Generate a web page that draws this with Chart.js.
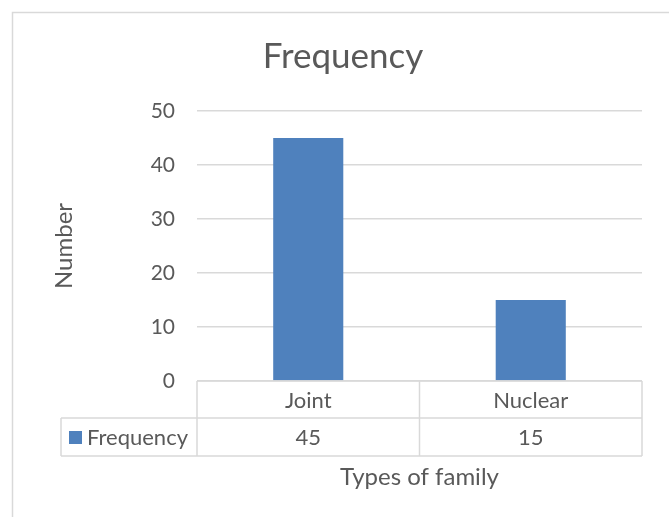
<!DOCTYPE html>
<html>
<head>
<meta charset="utf-8">
<script src="https://cdn.jsdelivr.net/npm/chart.js@4/dist/chart.umd.min.js"></script>
<style>
  html, body { margin: 0; padding: 0; background: #ffffff; }
  #wrap { width: 669px; height: 517px; position: relative; }
</style>
</head>
<body>
<div id="wrap"><canvas id="c" width="669" height="517"></canvas></div>
<script>
const categories = ['Joint', 'Nuclear'];
const frequency = [45, 15];
const seriesName = 'Frequency';
const chartTitle = 'Frequency';
const yTitle = 'Number';
const xTitle = 'Types of family';
const yTicks = [0, 10, 20, 30, 40, 50];

const FONT = 'Lato, "Open Sans", sans-serif';
const TEXT = '#595959';
const LINE = '#d9d9d9';
const BAR = '#4f81bd';

const frameAndTable = {
  id: 'frameAndTable',
  beforeDraw(chart) {
    const ctx = chart.ctx;
    ctx.save();
    ctx.fillStyle = '#ffffff';
    ctx.fillRect(0, 0, chart.width, chart.height);
    ctx.strokeStyle = LINE;
    ctx.lineWidth = 1.5;
    ctx.beginPath();
    ctx.moveTo(12.5, chart.height);
    ctx.lineTo(12.5, 12.5);
    ctx.lineTo(chart.width, 12.5);
    ctx.stroke();
    ctx.restore();
  },
  afterDraw(chart) {
    const ctx = chart.ctx;
    const area = chart.chartArea;
    const xs = chart.scales.x;
    const top = area.bottom;
    const mid = top + 37;
    const bot = top + 75;
    const legLeft = 61;
    ctx.save();
    ctx.strokeStyle = LINE;
    ctx.lineWidth = 1.5;
    ctx.beginPath();
    ctx.moveTo(area.left, top); ctx.lineTo(area.right, top);
    ctx.moveTo(legLeft, mid); ctx.lineTo(area.right, mid);
    ctx.moveTo(legLeft, bot); ctx.lineTo(area.right, bot);
    const step = (area.right - area.left) / categories.length;
    for (let i = 0; i <= categories.length; i++) {
      const x = area.left + step * i;
      ctx.moveTo(x, top); ctx.lineTo(x, bot);
    }
    ctx.moveTo(legLeft, mid); ctx.lineTo(legLeft, bot);
    ctx.stroke();

    ctx.fillStyle = TEXT;
    ctx.font = '22px ' + FONT;
    ctx.textAlign = 'center';
    ctx.textBaseline = 'middle';
    categories.forEach((c, i) => {
      const cx = xs.getPixelForValue(i);
      ctx.fillText(c, cx, (top + mid) / 2 + 1);
      ctx.fillText(String(frequency[i]), cx, (mid + bot) / 2 + 1);
    });
    ctx.fillStyle = BAR;
    ctx.fillRect(69, (mid + bot) / 2 - 6, 13, 13);
    ctx.fillStyle = TEXT;
    ctx.textAlign = 'left';
    ctx.fillText(seriesName, 87, (mid + bot) / 2 + 1);
    ctx.restore();
  }
};

new Chart(document.getElementById('c'), {
  type: 'bar',
  data: {
    labels: categories,
    datasets: [{
      label: seriesName,
      data: frequency,
      backgroundColor: BAR,
      borderWidth: 0,
      categoryPercentage: 1,
      barPercentage: 0.315
    }]
  },
  options: {
    responsive: false,
    animation: false,
    layout: { padding: { left: 44, right: 27, top: 0, bottom: 0 } },
    plugins: {
      legend: { display: false },
      tooltip: { enabled: false },
      title: {
        display: true,
        text: chartTitle,
        color: TEXT,
        font: { family: FONT, size: 35, weight: 'normal', lineHeight: 1.2 },
        padding: { top: 36, bottom: 33 }
      }
    },
    scales: {
      y: {
        min: 0,
        max: 50,
        afterBuildTicks(s) { s.ticks = yTicks.map(v => ({ value: v })); },
        afterFit(s) { s.width = 153; },
        ticks: {
          color: TEXT,
          font: { family: FONT, size: 21 },
          padding: 22
        },
        grid: { color: LINE, lineWidth: 1.5, drawTicks: false },
        border: { display: false },
        title: {
          display: true,
          text: yTitle,
          color: TEXT,
          font: { family: FONT, size: 24, lineHeight: 1.2 },
          padding: { top: 6, bottom: 0 }
        }
      },
      x: {
        ticks: { display: false },
        grid: { display: false, drawTicks: false },
        border: { display: false },
        afterFit(s) { s.height = 136; },
        title: {
          display: true,
          text: xTitle,
          color: TEXT,
          font: { family: FONT, size: 24, lineHeight: 1.2 },
          padding: { top: 0, bottom: 25 }
        }
      }
    }
  },
  plugins: [frameAndTable]
});
</script>
</body>
</html>
